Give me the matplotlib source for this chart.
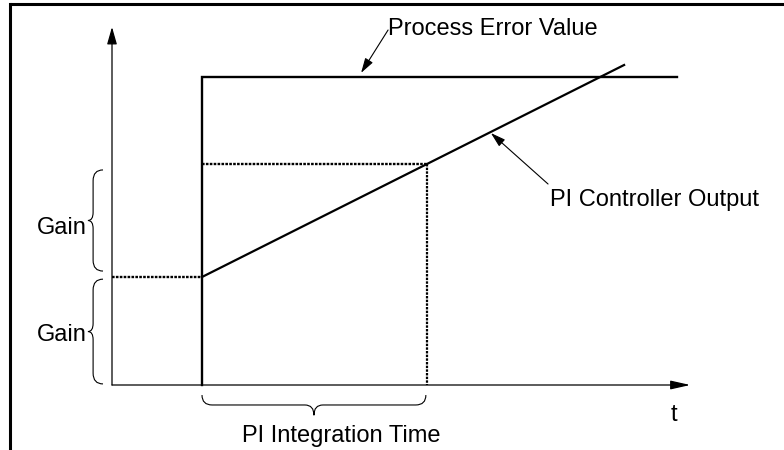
import matplotlib
matplotlib.use("Agg")
import matplotlib.pyplot as plt
from matplotlib.path import Path
from matplotlib.patches import PathPatch
from matplotlib.lines import Line2D

# ---------------- data (conceptual units) ----------------
t_step = 4.0            # time of the error step
t_int_end = 14.0        # end of PI integration time
t_err_end = 25.1        # end of drawn error trace
error_level = 28.5      # process error value after step
gain_step = 10.0        # proportional jump of controller output
out_end = [22.76, 29.63]  # end point of controller output ramp

err_t = [t_step, t_step, t_err_end]
err_v = [0.0, error_level, error_level]

out_t = [t_step, out_end[0]]
out_v = [gain_step, out_end[1]]

axis_x_end = 25.7
axis_y_end = 33.15

labels = {
    "err": "Process Error Value",
    "out": "PI Controller Output",
    "gain": "Gain",
    "ti": "PI Integration Time",
    "t": "t",
}

# ---------------- figure ----------------
plt.rcParams['font.family'] = ['Liberation Sans', 'DejaVu Sans']
fig = plt.figure(figsize=(7.84, 4.5), dpi=100)
ax = fig.add_axes([0, 0, 1, 1])
ax.set_xlim(-112 / 22.5, (784 - 112) / 22.5)
ax.set_ylim(-65 / 10.8, 385 / 10.8)
ax.axis('off')

# frame (top and left border)
ax.add_line(Line2D([10 / 784, 1.0], [1 - 4 / 450, 1 - 4 / 450], transform=ax.transAxes,
                   color='black', lw=2.2, solid_capstyle='butt'))
ax.add_line(Line2D([10 / 784, 10 / 784], [0, 1 - 4 / 450], transform=ax.transAxes,
                   color='black', lw=2.2, solid_capstyle='projecting'))

# axes with arrows
ax.annotate('', xy=(0, axis_y_end), xytext=(0, 0),
            arrowprops=dict(arrowstyle='-|>,head_length=1.05,head_width=0.3',
                            mutation_scale=10, color='black', lw=0.9,
                            shrinkA=0, shrinkB=0))
ax.annotate('', xy=(axis_x_end, 0), xytext=(0, 0),
            arrowprops=dict(arrowstyle='-|>,head_length=1.2,head_width=0.27',
                            mutation_scale=10, color='black', lw=0.9,
                            shrinkA=0, shrinkB=0))

# process error step
ax.plot(err_t, err_v, color='black', lw=1.7, solid_joinstyle='miter')
# controller output ramp
ax.plot(out_t, out_v, color='black', lw=1.6)

# value of the output at the end of integration time
slope = (out_v[1] - out_v[0]) / (out_t[1] - out_t[0])
v_int = out_v[0] + slope * (t_int_end - t_step)

dot = (0, (1.1, 0.55))
ax.plot([0, t_step], [gain_step, gain_step], color='black', lw=1.7, ls=dot)
ax.plot([t_step, t_int_end], [v_int, v_int], color='black', lw=1.7, ls=dot)
ax.plot([t_int_end, t_int_end], [v_int, 0], color='black', lw=1.6, ls=dot)


def vbrace(x_end, x_sp, x_tip, y_top, y_bot, r, rt):
    ym = (y_top + y_bot) / 2
    verts = [(x_end, y_top), (x_sp, y_top), (x_sp, y_top - r),
             (x_sp, ym + rt), (x_sp, ym), (x_tip, ym),
             (x_sp, ym), (x_sp, ym - rt),
             (x_sp, y_bot + r), (x_sp, y_bot), (x_end, y_bot)]
    codes = [Path.MOVETO, Path.CURVE3, Path.CURVE3,
             Path.LINETO, Path.CURVE3, Path.CURVE3,
             Path.CURVE3, Path.CURVE3,
             Path.LINETO, Path.CURVE3, Path.CURVE3]
    ax.add_patch(PathPatch(Path(verts, codes), fc='none', ec='black', lw=0.8))


def hbrace(x_a, x_b, y_end, y_sp, y_tip, r, rt):
    xm = (x_a + x_b) / 2
    verts = [(x_a, y_end), (x_a, y_sp), (x_a + r, y_sp),
             (xm - rt, y_sp), (xm, y_sp), (xm, y_tip),
             (xm, y_sp), (xm + rt, y_sp),
             (x_b - r, y_sp), (x_b, y_sp), (x_b, y_end)]
    codes = [Path.MOVETO, Path.CURVE3, Path.CURVE3,
             Path.LINETO, Path.CURVE3, Path.CURVE3,
             Path.CURVE3, Path.CURVE3,
             Path.LINETO, Path.CURVE3, Path.CURVE3]
    ax.add_patch(PathPatch(Path(verts, codes), fc='none', ec='black', lw=0.8))


# gain braces
vbrace(-0.40, -0.84, -1.07, v_int - 0.55, gain_step + 0.55, 1.0, 0.75)
vbrace(-0.40, -0.84, -1.07, gain_step - 0.2, 0.1, 1.0, 0.75)
# integration-time brace
hbrace(t_step, t_int_end - 0.05, -0.93, -1.85, -2.8, 0.45, 0.4)

fs = 17
ax.text(-3.33, 13.98, labels["gain"], fontsize=fs, ha='left', va='baseline')
ax.text(-3.33, 4.07, labels["gain"], fontsize=fs, ha='left', va='baseline')
ax.text(5.78, -5.28, labels["ti"], fontsize=fs, ha='left', va='baseline')
ax.text(24.98, -3.33, labels["t"], fontsize=fs, ha='center', va='baseline')
ax.text(12.27, 32.41, labels["err"], fontsize=fs, ha='left', va='baseline')
ax.text(19.47, 16.57, labels["out"], fontsize=fs, ha='left', va='baseline')

# annotation arrows
ax.annotate('', xy=(11.07, 28.9), xytext=(12.27, 32.87),
            arrowprops=dict(arrowstyle='-|>,head_length=0.9,head_width=0.27',
                            mutation_scale=10, color='black', lw=0.8,
                            shrinkA=0, shrinkB=0))
ax.annotate('', xy=(16.84, 23.33), xytext=(19.38, 18.61),
            arrowprops=dict(arrowstyle='-|>,head_length=0.9,head_width=0.27',
                            mutation_scale=10, color='black', lw=0.8,
                            shrinkA=0, shrinkB=0))

fig.savefig('out.png', dpi=100, facecolor='white')
